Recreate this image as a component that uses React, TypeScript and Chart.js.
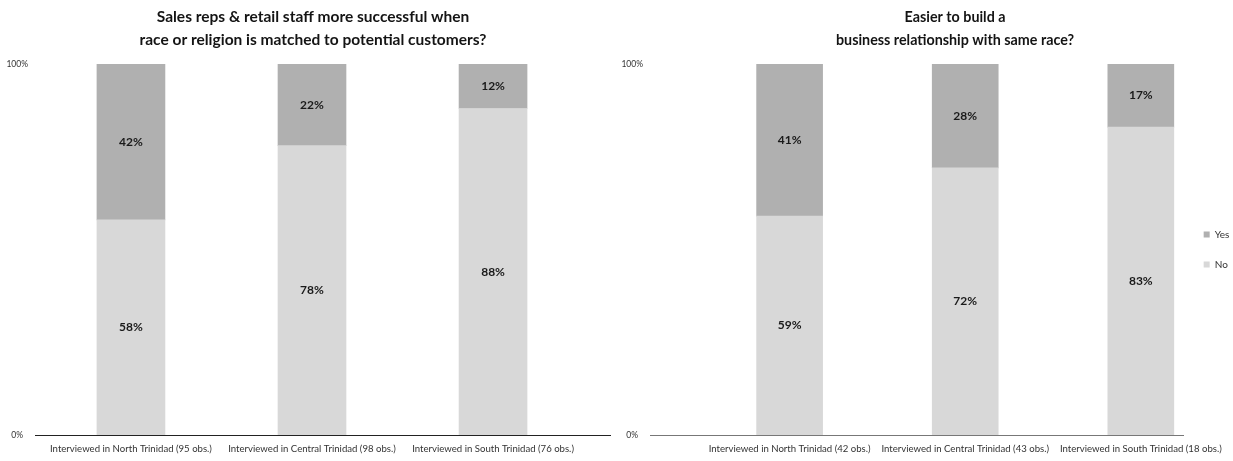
import React, { useEffect, useRef } from "react";
import { Chart, registerables } from "chart.js";

Chart.register(...registerables);

// ---------- data ----------
const leftTitle = [
  "Sales reps & retail staff more successful when",
  "race or religion is matched to potential customers?",
];
const rightTitle = ["Easier to build a", "business relationship with same race?"];

const leftCategories = [
  "Interviewed in North Trinidad (95 obs.)",
  "Interviewed in Central Trinidad (98 obs.)",
  "Interviewed in South Trinidad (76 obs.)",
];
const rightCategories = [
  "Interviewed in North Trinidad (42 obs.)",
  "Interviewed in Central Trinidad (43 obs.)",
  "Interviewed in South Trinidad (18 obs.)",
];

const leftNo = [58, 78, 88];
const leftYes = [42, 22, 12];
const rightNo = [59, 72, 83];
const rightYes = [41, 28, 17];

const yTickValues = [0, 100];
const seriesNames = ["No", "Yes"];

// ---------- styles ----------
const NO_COLOR = "#d8d8d8";
const YES_COLOR = "#b0b0b0";
const FONT = "Lato, 'Open Sans', sans-serif";

const titlePlugin = {
  id: "twoLineTitle",
  afterDraw(chart: any, _args: any, opts: any) {
    const ctx = chart.ctx;
    ctx.save();
    ctx.font = `bold ${opts.size}px ${FONT}`;
    ctx.fillStyle = "#141414";
    ctx.textAlign = "center";
    ctx.textBaseline = "middle";
    (opts.lines as string[]).forEach((line, i) => {
      ctx.fillText(line, opts.x, opts.y0 + i * opts.lineGap);
    });
    ctx.restore();
  },
};

const segmentLabelPlugin = {
  id: "segmentLabels",
  afterDatasetsDraw(chart: any) {
    const ctx = chart.ctx;
    ctx.save();
    ctx.font = `bold 12px ${FONT}`;
    ctx.fillStyle = "#1a1a1a";
    ctx.textAlign = "center";
    ctx.textBaseline = "middle";
    chart.data.datasets.forEach((ds: any, di: number) => {
      const meta = chart.getDatasetMeta(di);
      meta.data.forEach((el: any, i: number) => {
        const v = ds.data[i].y;
        const y = (el.y + el.base) / 2;
        ctx.fillText(`${v}%`, el.x, y);
      });
    });
    ctx.restore();
  },
};

function buildConfig(p: {
  categories: string[];
  no: number[];
  yes: number[];
  title: string[];
  titleX: number;
  titleSize: number;
  xMin: number;
  xMax: number;
  yAxisWidth: number;
  barThickness: number;
  baseColor: string;
  legend: boolean;
  padRight: number;
}) {
  return {
    type: "bar",
    data: {
      datasets: [
        {
          label: seriesNames[0],
          data: p.no.map((v, i) => ({ x: i, y: v })),
          backgroundColor: NO_COLOR,
          borderWidth: 0,
          barThickness: p.barThickness,
        },
        {
          label: seriesNames[1],
          data: p.yes.map((v, i) => ({ x: i, y: v })),
          backgroundColor: YES_COLOR,
          borderWidth: 0,
          barThickness: p.barThickness,
        },
      ],
    },
    options: {
      responsive: false,
      animation: false,
      layout: { autoPadding: false, padding: { top: 64, left: 0, right: p.padRight, bottom: 0 } },
      scales: {
        x: {
          type: "linear",
          stacked: true,
          offset: false,
          min: p.xMin,
          max: p.xMax,
          grid: { display: false, drawTicks: false, offset: false },
          border: { display: true, color: p.baseColor, width: 1 },
          afterBuildTicks: (s: any) => {
            s.ticks = p.categories.map((_, i) => ({ value: i }));
          },
          afterFit: (s: any) => {
            s.height = 26;
          },
          ticks: {
            autoSkip: false,
            maxRotation: 0,
            padding: 8,
            color: "#333",
            font: { family: FONT, size: 9.6 },
            callback: (v: any) => p.categories[v] ?? "",
          },
        },
        y: {
          stacked: true,
          min: 0,
          max: 100,
          grid: { display: false, drawTicks: false },
          border: { display: false },
          afterBuildTicks: (s: any) => {
            s.ticks = yTickValues.map((v) => ({ value: v }));
          },
          afterFit: (s: any) => {
            s.width = p.yAxisWidth;
          },
          ticks: {
            crossAlign: "center",
            padding: 7,
            color: "#333",
            font: { family: FONT, size: 8.5 },
            callback: (v: any) => `${v}%`,
          },
        },
      },
      plugins: {
        title: { display: false },
        tooltip: { enabled: false },
        legend: {
          display: p.legend,
          position: "right",
          fullSize: false,
          reverse: true,
          labels: {
            boxWidth: 6,
            boxHeight: 6,
            padding: 20,
            color: "#333",
            font: { family: FONT, size: 10 },
          },
        },
        twoLineTitle: { lines: p.title, x: p.titleX, y0: 17, lineGap: 23, size: p.titleSize },
      },
    },
    plugins: [titlePlugin, segmentLabelPlugin],
  } as any;
}

function ChartBox(props: { left: number; width: number; config: any }) {
  const ref = useRef<HTMLCanvasElement | null>(null);
  useEffect(() => {
    if (!ref.current) return;
    const chart = new Chart(ref.current, props.config);
    return () => chart.destroy();
  }, []);
  return (
    <div style={{ position: "absolute", left: props.left, top: 0, width: props.width, height: 461 }}>
      <canvas ref={ref} width={props.width} height={461} style={{ width: props.width, height: 461 }} />
    </div>
  );
}

export default function App() {
  const leftCfg = buildConfig({
    categories: leftCategories,
    no: leftNo,
    yes: leftYes,
    title: leftTitle,
    titleX: 313,
    titleSize: 15.5,
    xMin: -0.53,
    xMax: 2.646,
    yAxisWidth: 35,
    barThickness: 68,
    baseColor: "#222",
    legend: false,
    padRight: 10,
  });
  const rightCfg = buildConfig({
    categories: rightCategories,
    no: rightNo,
    yes: rightYes,
    title: rightTitle,
    titleX: 335,
    titleSize: 14.3,
    xMin: -0.795,
    xMax: 2.244,
    yAxisWidth: 30,
    barThickness: 66,
    baseColor: "#777",
    legend: true,
    padRight: -15,
  });
  return (
    <div style={{ position: "absolute", left: 0, top: 0, width: 1233, height: 461, background: "#fff" }}>
      <ChartBox left={0} width={620} config={leftCfg} />
      <ChartBox left={620} width={613} config={rightCfg} />
    </div>
  );
}
